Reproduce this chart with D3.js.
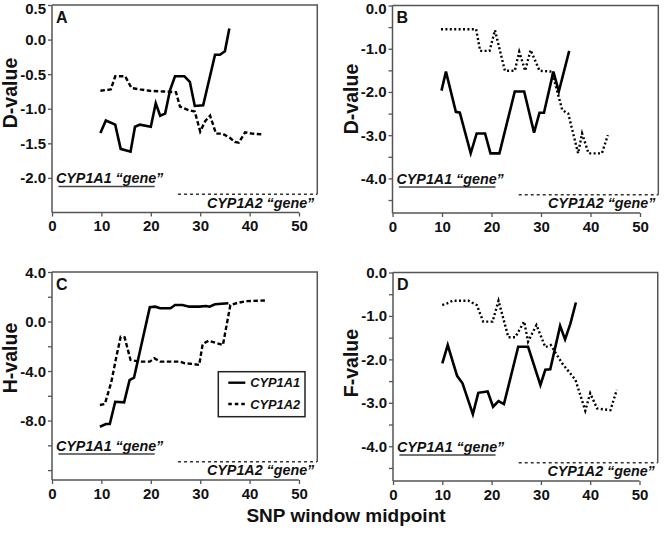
<!DOCTYPE html>
<html><head><meta charset="utf-8">
<script src="https://cdn.jsdelivr.net/npm/d3@7"></script>
<style>body{margin:0;background:#fff}svg{display:block}</style>
</head><body><svg id="c" width="664" height="536"></svg>
<script>
// ---------- data ----------
const seriesNames = ["CYP1A1", "CYP1A2"];
const geneLabels = ["CYP1A1 \u201Cgene\u201D", "CYP1A2 \u201Cgene\u201D"];
const gene1Span = [1.3, 20.8];
const gene2Span = [25.5, 53.7];
const xTicks = [0, 10, 20, 30, 40, 50];
const xTitle = "SNP window midpoint";

const panelLetters = ["A", "B", "C", "D"];
const yTitles = ["D-value", "D-value", "H-value", "F-value"];
const yDomains = [[-2.5, 0.5], [-4.8, 0], [-12.8, 4], [-4.8, 0]];
const yMajor = [[0.5, 0, -0.5, -1, -1.5, -2], [0, -1, -2, -3, -4], [4, 0, -4, -8], [0, -1, -2, -3, -4]];
const yMinor = [[], [-0.5, -1.5, -2.5, -3.5, -4.5], [2, -2, -6, -10, -12], [-0.5, -1.5, -2.5, -3.5, -4.5]];

// Panel A
const aX1 = [9.8,10.9,12.8,13.9,15.9,16.8,17.8,20.0,21.0,21.9,22.9,23.9,24.9,26.8,27.9,28.9,30.6,33.0,34.0,35.0,35.9];
const aY1 = [-1.35,-1.17,-1.23,-1.58,-1.62,-1.26,-1.23,-1.26,-0.92,-1.1,-1.07,-0.73,-0.53,-0.53,-0.61,-0.96,-0.95,-0.22,-0.22,-0.17,0.16];
const aX2 = [9.8,11.9,12.8,14.8,16.1,17.8,19.8,22.5,25.1,25.9,27.6,28.9,30.0,31.0,32.0,33.2,34.5,36.0,37.0,37.8,39.1,40.5,42.7];
const aY2 = [-0.74,-0.72,-0.53,-0.53,-0.7,-0.72,-0.74,-0.75,-0.76,-0.97,-1.02,-1.04,-1.33,-1.18,-1.1,-1.36,-1.36,-1.42,-1.48,-1.49,-1.34,-1.36,-1.37];
// Panel B
const bX1 = [9.9,10.8,12.8,13.6,15.8,17.0,18.7,19.8,21.6,24.7,26.6,28.6,29.7,30.6,32.5,33.6,35.7];
const bY1 = [-1.97,-1.53,-2.46,-2.48,-3.42,-2.96,-2.96,-3.42,-3.42,-1.99,-1.99,-2.94,-2.48,-2.48,-1.53,-1.99,-1.05];
const bX2 = [9.8,16.9,17.7,19.6,20.7,22.7,24.7,25.6,26.8,27.9,29.7,32.2,34.3,35.5,37.5,38.3,39.6,42.3,43.5];
const bY2 = [-0.55,-0.55,-1.05,-1.05,-0.57,-1.51,-1.51,-1.07,-1.51,-1.03,-1.51,-1.53,-2.42,-2.5,-3.42,-2.96,-3.42,-3.42,-3.0];
// Panel C
const cX1 = [9.7,10.9,11.7,12.8,14.6,15.7,16.6,19.8,20.9,21.9,24.0,24.9,26.4,27.8,29.8,31.2,31.9,33.0,35.7];
const cY1 = [-8.5,-8.28,-8.28,-6.48,-6.53,-4.73,-4.54,1.15,1.2,1.07,1.07,1.33,1.33,1.2,1.2,1.25,1.2,1.39,1.47];
const cX2 = [9.7,10.7,12.0,13.0,13.9,14.7,15.9,17.8,19.8,20.7,21.9,25.9,26.9,28.6,29.8,30.5,31.7,34.6,36.1,37.5,39.3,43.5];
const cY2 = [-6.74,-6.66,-4.9,-2.9,-1.23,-1.28,-3.11,-3.24,-3.24,-2.97,-3.24,-3.24,-3.38,-3.43,-3.51,-1.82,-1.55,-1.9,1.33,1.5,1.65,1.7];
// Panel D
const dX1 = [10.0,11.1,13.0,14.1,16.2,17.3,19.2,20.3,21.4,22.5,25.4,27.4,29.9,30.9,31.9,33.9,34.9,36.0,37.1];
const dY1 = [-2.09,-1.67,-2.38,-2.55,-3.26,-2.77,-2.74,-3.09,-2.96,-3.03,-1.71,-1.71,-2.59,-2.24,-2.23,-1.23,-1.54,-1.17,-0.69];
const dX2 = [10.0,11.0,12.1,15.3,17.0,18.3,20.2,21.4,23.4,24.8,26.6,27.4,29.1,30.9,32.0,34.3,37.0,39.0,40.0,41.4,44.1,45.4];
const dY2 = [-0.75,-0.71,-0.65,-0.65,-0.75,-1.13,-1.13,-0.65,-1.49,-1.49,-1.13,-1.59,-1.21,-1.72,-1.67,-2.09,-2.47,-3.18,-2.78,-3.13,-3.17,-2.7];

const panelSeries = [
  [[aX1, aY1], [aX2, aY2]],
  [[bX1, bY1], [bX2, bY2]],
  [[cX1, cY1], [cX2, cY2]],
  [[dX1, dY1], [dX2, dY2]]
];

// ---------- layout ----------
const boxes = [
  {left: 52,    top: 5,     bottom: 212.5, k: 4.94, titleX: 17,  titleY: 93,  dash: "4.5,2.5"},
  {left: 392.5, top: 5.5,   bottom: 213,   k: 4.95, titleX: 358, titleY: 99,  dash: "2,2.4"},
  {left: 52,    top: 272,   bottom: 480,   k: 4.94, titleX: 17,  titleY: 358, dash: "4.5,2.5"},
  {left: 393,   top: 272.5, bottom: 481,   k: 4.93, titleX: 358, titleY: 363, dash: "2,2.4"}
];
const xMax = 53.7;
const FONT = "'Liberation Sans', Arial, Helvetica, sans-serif";
const axisColor = "#555";

const svg = d3.select("#c").style("font-family", FONT);
const fmt = v => v.toFixed(1);

panelLetters.forEach((letter, i) => {
  const b = boxes[i];
  const x = d3.scaleLinear().domain([0, xMax]).range([b.left, b.left + xMax * b.k]);
  const y = d3.scaleLinear().domain(yDomains[i]).range([b.bottom, b.top]);
  const g = svg.append("g");
  const right = x(xMax);
  const gene2Y = b.bottom - 18.3;

  // frame (top and right)
  g.append("path")
    .attr("d", `M${b.left},${b.top}H${right}V${gene2Y}`)
    .attr("fill", "none").attr("stroke", axisColor).attr("stroke-width", 1.5);

  // y axis
  const yAxis = g.append("g").attr("transform", `translate(${b.left},0)`)
    .call(d3.axisLeft(y).tickValues(yMajor[i]).tickFormat(fmt).tickSize(4).tickPadding(2).tickSizeOuter(0));
  yAxis.select(".domain").attr("stroke", axisColor).attr("stroke-width", 1.5)
    .attr("d", `M0,${b.top}V${b.bottom}`);
  yAxis.selectAll(".tick line").attr("stroke", axisColor).attr("stroke-width", 1.3);
  yAxis.selectAll(".tick text")
    .attr("font-size", 15).attr("font-weight", "bold").attr("fill", "#111").attr("font-family", FONT)
    .attr("dy", function(d) { const py = y(d); return (py < 8.5 ? (8.5 - py) : 0) + 5; });

  g.append("g").attr("transform", `translate(${b.left},0)`)
    .call(d3.axisLeft(y).tickValues(yMinor[i]).tickFormat("").tickSize(4).tickSizeOuter(0))
    .call(s => s.select(".domain").remove())
    .selectAll("line").attr("stroke", axisColor).attr("stroke-width", 1.3);

  // x axis
  const xAxis = g.append("g").attr("transform", `translate(0,${b.bottom})`)
    .call(d3.axisBottom(x).tickValues(xTicks).tickFormat(d3.format("d")).tickSize(4).tickPadding(4).tickSizeOuter(0));
  xAxis.select(".domain").attr("stroke", axisColor).attr("stroke-width", 1.5)
    .attr("d", `M${b.left},0H${x(50)}`);
  xAxis.selectAll(".tick line").attr("stroke", axisColor).attr("stroke-width", 1.3);
  xAxis.selectAll("text").attr("font-size", 15).attr("font-weight", "bold").attr("fill", "#111")
    .attr("font-family", FONT);

  // gene annotations
  g.append("line").attr("x1", x(gene1Span[0])).attr("x2", x(gene1Span[1]))
    .attr("y1", b.bottom - 26).attr("y2", b.bottom - 26)
    .attr("stroke", "#444").attr("stroke-width", 1.6);
  g.append("text").attr("x", b.left + 4).attr("y", b.bottom - 29.5)
    .attr("font-size", 14.3).attr("font-weight", "bold").attr("font-style", "italic")
    .attr("fill", "#111").text(geneLabels[0]);
  g.append("line").attr("x1", x(gene2Span[0])).attr("x2", x(gene2Span[1]))
    .attr("y1", gene2Y).attr("y2", gene2Y)
    .attr("stroke", "#333").attr("stroke-width", 1.4).attr("stroke-dasharray", "3,3");
  g.append("text").attr("x", right - 3).attr("y", b.bottom - 4.7).attr("text-anchor", "end")
    .attr("font-size", 14.3).attr("font-weight", "bold").attr("font-style", "italic")
    .attr("fill", "#111").text(geneLabels[1]);

  // series
  const line = d3.line().x(d => x(d[0])).y(d => y(d[1]));
  panelSeries[i].forEach(([xs, ys], s) => {
    const pts = xs.map((v, j) => [v, ys[j]]);
    g.append("path").datum(pts).attr("d", line)
      .attr("fill", "none").attr("stroke", "#000")
      .attr("stroke-width", s === 0 ? 2.6 : 2.4)
      .attr("stroke-linejoin", "miter")
      .attr("stroke-dasharray", s === 0 ? null : b.dash);
  });

  // panel letter
  g.append("text").attr("x", b.left + 4).attr("y", b.top + 17.5)
    .attr("font-size", 16).attr("font-weight", "bold").attr("fill", "#111").text(letter);

  // y title
  g.append("text").attr("transform", `translate(${b.titleX},${b.titleY}) rotate(-90)`)
    .attr("text-anchor", "middle").attr("font-size", 19.5).attr("font-weight", "bold")
    .attr("fill", "#111").text(yTitles[i]);

  // legend in panel C
  if (i === 2) {
    const lg = g.append("g").attr("transform", `translate(${b.left + 166.3},${b.top + 99.7})`);
    lg.append("rect").attr("width", 86.7).attr("height", 45)
      .attr("fill", "#fff").attr("stroke", "#222").attr("stroke-width", 1.5);
    seriesNames.forEach((name, s) => {
      const yy = 11 + s * 21.3;
      lg.append("line").attr("x1", 10).attr("x2", 27).attr("y1", yy).attr("y2", yy)
        .attr("stroke", "#000").attr("stroke-width", 2.4)
        .attr("stroke-dasharray", s === 0 ? null : "3.5,3");
      lg.append("text").attr("x", 32).attr("y", yy + 4.6)
        .attr("font-size", 12.8).attr("font-weight", "bold").attr("font-style", "italic")
        .attr("fill", "#111").text(name);
    });
  }
});

// shared x title
svg.append("text").attr("x", 346).attr("y", 522).attr("text-anchor", "middle")
  .attr("font-size", 19).attr("font-weight", "bold").attr("fill", "#111").text(xTitle);
</script></body></html>
